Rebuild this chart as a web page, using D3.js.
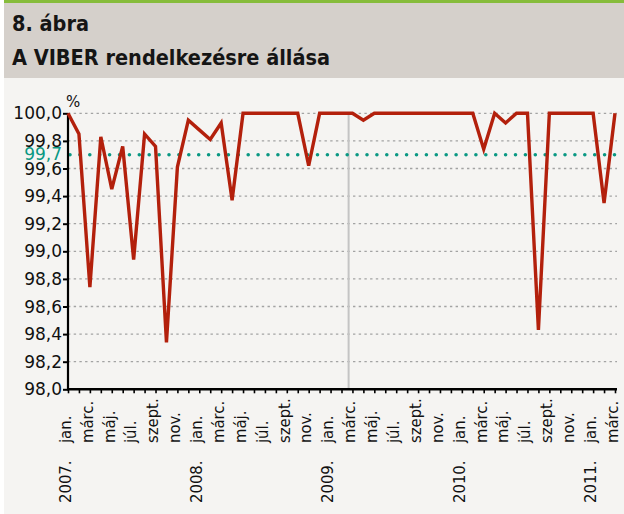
<!DOCTYPE html>
<html>
<head>
<meta charset="utf-8">
<script src="https://cdn.jsdelivr.net/npm/d3@7"></script>
<style>
  body { margin: 0; background: #ffffff; }
  svg { display: block; }
  .title { font-family: "DejaVu Sans Condensed", "DejaVu Sans", sans-serif; font-weight: bold; font-size: 21.5px; fill: #151515; }
  .ylab { font-family: "DejaVu Sans", sans-serif; font-size: 17px; fill: #111; }
  .xlab { font-family: "DejaVu Sans Condensed", "DejaVu Sans", sans-serif; font-size: 16.5px; fill: #111; }
</style>
</head>
<body>
<div id="chart"></div>
<script>
// Chart data
const monthNames = ['jan.', 'febr.', 'márc.', 'ápr.', 'máj.', 'jún.', 'júl.', 'aug.', 'szept.', 'okt.', 'nov.', 'dec.'];
const years = ['2007.', '2008.', '2009.', '2010.', '2011.'];
const availability = [
    100.0, 99.85, 98.74, 99.83, 99.45, 99.76, 98.94, 99.85, 99.76, 98.34, 99.61, 99.95,
    99.88, 99.81, 99.93, 99.37, 100.0, 100.0, 100.0, 100.0, 100.0, 100.0, 99.62, 100.0,
    100.0, 100.0, 100.0, 99.95, 100.0, 100.0, 100.0, 100.0, 100.0, 100.0, 100.0, 100.0,
    100.0, 100.0, 99.74, 100.0, 99.93, 100.0, 100.0, 98.43, 100.0, 100.0, 100.0, 100.0,
    100.0, 99.35, 100.0
];
const target = 99.7;
const markerMonth = 25.65;   // vertical grey separator (2009 Feb/Mar)
const yTicks = [98.0, 98.2, 98.4, 98.6, 98.8, 99.0, 99.2, 99.4, 99.6, 99.8, 100.0];

const categories = availability.map((v, i) => ({
    i: i,
    month: monthNames[i % 12],
    year: i % 12 === 0 ? years[i / 12] : null
}));

const width = 624, height = 514;
const svg = d3.select('#chart').append('svg')
    .attr('width', width)
    .attr('height', height);

// Header + background
svg.append('rect').attr('x', 4).attr('y', 0).attr('width', width - 4).attr('height', height).attr('fill', '#f5f4f2');
svg.append('rect').attr('x', 4).attr('y', 0).attr('width', width - 4).attr('height', 78).attr('fill', '#d5d0cb');
svg.append('rect').attr('x', 4).attr('y', 0).attr('width', width - 4).attr('height', 3).attr('fill', '#86bc3b');

svg.append('text').attr('class', 'title').attr('x', 12).attr('y', 31).text('8. ábra');
svg.append('text').attr('class', 'title').attr('x', 12).attr('y', 65).text('A VIBER rendelkezésre állása');

// Scales
const x = d3.scaleLinear().domain([0, availability.length - 1]).range([68, 615]);
const y = d3.scaleLinear().domain([98, 100]).range([389.3, 113.3]);
const fmt = v => d3.format('.1f')(v).replace('.', ',');

// Grid lines
svg.append('g')
    .selectAll('line')
    .data(yTicks.filter(t => t > 98))
    .enter()
    .append('line')
    .attr('x1', x(0)).attr('x2', 617)
    .attr('y1', d => y(d)).attr('y2', d => y(d))
    .attr('stroke', '#a3a3a3')
    .attr('stroke-width', 1.3)
    .attr('stroke-dasharray', '2.4,3.3');

// Vertical separator
svg.append('line')
    .attr('x1', x(markerMonth)).attr('x2', x(markerMonth))
    .attr('y1', y(100)).attr('y2', y(98))
    .attr('stroke', '#c4c4c4')
    .attr('stroke-width', 2);

// Target line 99.7
svg.append('line')
    .attr('x1', x(0) + 2).attr('x2', 617)
    .attr('y1', y(target)).attr('y2', y(target))
    .attr('stroke', '#0a9883')
    .attr('stroke-width', 3.6)
    .attr('stroke-linecap', 'round')
    .attr('stroke-dasharray', '0,9.9');

// Y axis
const yAxis = svg.append('g')
    .attr('transform', `translate(${x(0)},0)`)
    .call(d3.axisLeft(y).tickValues(yTicks).tickSize(5).tickFormat(''));
yAxis.select('.domain').attr('stroke', '#000').attr('stroke-width', 2.2).attr('d', `M0,${y(100)}V${y(98)}`);
yAxis.selectAll('.tick line').attr('stroke', '#000').attr('stroke-width', 2);

svg.append('g')
    .selectAll('text')
    .data(yTicks)
    .enter()
    .append('text')
    .attr('class', 'ylab')
    .attr('x', 62)
    .attr('y', d => y(d))
    .attr('dy', '0.36em')
    .attr('text-anchor', 'end')
    .text(fmt);

svg.append('text')
    .attr('class', 'ylab')
    .attr('x', 62)
    .attr('y', y(target))
    .attr('dy', '0.3em')
    .attr('text-anchor', 'end')
    .style('fill', '#0a9883')
    .text(fmt(target));

svg.append('text')
    .attr('class', 'ylab')
    .attr('x', 66)
    .attr('y', 107)
    .style('font-size', '15px')
    .text('%');

// X axis
const xAxis = svg.append('g')
    .attr('transform', `translate(0,${y(98)})`)
    .call(d3.axisBottom(x).tickValues(d3.range(availability.length)).tickSize(4).tickFormat(''));
xAxis.select('.domain').attr('stroke', '#000').attr('stroke-width', 2.6).attr('d', `M${x(0) - 1},0H${x(availability.length - 1) + 2}`);
xAxis.selectAll('.tick line').attr('stroke', '#000').attr('stroke-width', 1.6);

// Month labels (every second month)
svg.append('g')
    .selectAll('text')
    .data(categories.filter(d => d.i % 2 === 0))
    .enter()
    .append('text')
    .attr('class', 'xlab')
    .attr('transform', d => `translate(${x(d.i) - 3},443) rotate(-90)`)
    .attr('dy', '0.35em')
    .text(d => d.month);

// Year labels
svg.append('g')
    .selectAll('text')
    .data(categories.filter(d => d.year))
    .enter()
    .append('text')
    .attr('class', 'xlab')
    .attr('transform', d => `translate(${x(d.i) - 3},503) rotate(-90)`)
    .attr('dy', '0.35em')
    .text(d => d.year);

// Data line
const line = d3.line()
    .x((d, i) => x(i))
    .y(d => y(d));

svg.append('path')
    .datum(availability)
    .attr('d', line)
    .attr('fill', 'none')
    .attr('stroke', '#b3200c')
    .attr('stroke-width', 3.4)
    .attr('stroke-linejoin', 'miter');
</script>
</body>
</html>
